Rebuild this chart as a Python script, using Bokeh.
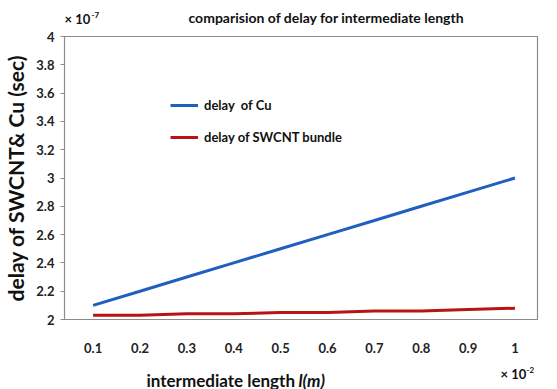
from bokeh.plotting import figure
from bokeh.models import Label, Legend, LegendItem, FixedTicker, Range1d
from bokeh.layouts import column
from bokeh.embed import file_html
from bokeh.resources import INLINE

lengths = [0.1, 0.2, 0.3, 0.4, 0.5, 0.6, 0.7, 0.8, 0.9, 1.0]
delay_cu = [2.1, 2.2, 2.3, 2.4, 2.5, 2.6, 2.7, 2.8, 2.9, 3.0]
delay_swcnt = [2.03, 2.03, 2.04, 2.04, 2.05, 2.05, 2.06, 2.06, 2.07, 2.08]
x_ticks = [0.1, 0.2, 0.3, 0.4, 0.5, 0.6, 0.7, 0.8, 0.9, 1.0]
y_ticks = [2, 2.2, 2.4, 2.6, 2.8, 3, 3.2, 3.4, 3.6, 3.8, 4]

FONT = "Lato"
W = 541


def strip(height):
    s = figure(width=W, height=height, output_backend="svg", toolbar_location=None,
               x_range=Range1d(0, 1), y_range=Range1d(0, 1),
               x_axis_location=None, y_axis_location=None, min_border=0)
    s.grid.visible = False
    s.outline_line_color = None
    s.background_fill_color = "white"
    s.border_fill_color = "white"
    return s


def add_label(fig, x, y, text, size, style="bold", baseline="middle"):
    fig.add_layout(Label(x=x, y=y, x_units="screen", y_units="screen", text=text,
                         text_font=FONT, text_font_style=style, text_font_size=size,
                         text_color="#111111", text_baseline=baseline))


# top strip: title row
top = strip(28)
add_label(top, 124, 11, "comparision of delay for intermediate length", "14px")
add_label(top, 0, 10, "× 10", "13px")
add_label(top, 27, 14, "-7", "8px")

# main plot
p = figure(width=W, height=335, output_backend="svg", toolbar_location=None,
           x_range=Range1d(0.039, 1.048), y_range=Range1d(2, 4),
           min_border_left=55, min_border_right=4, min_border_top=8, min_border_bottom=44)
p.background_fill_color = "white"
p.border_fill_color = "white"
p.outline_line_color = "#8c8c8c"
p.outline_line_width = 1.2
p.grid.visible = False

r1 = p.line(lengths, delay_cu, line_color="#1f5fc0", line_width=3)
r2 = p.line(lengths, delay_swcnt, line_color="#b81414", line_width=3)

p.xaxis.ticker = FixedTicker(ticks=x_ticks)
p.xaxis.major_label_overrides = {0.1: "0.1", 0.2: "0.2", 0.3: "0.3", 0.4: "0.4", 0.5: "0.5",
                                 0.6: "0.6", 0.7: "0.7", 0.8: "0.8", 0.9: "0.9", 1.0: "1"}
p.xaxis.major_tick_line_color = None
p.xaxis.minor_tick_line_color = None
p.xaxis.axis_line_color = "#8c8c8c"
p.xaxis.major_label_text_font = FONT
p.xaxis.major_label_text_font_style = "bold"
p.xaxis.major_label_text_font_size = "13px"
p.xaxis.major_label_text_color = "#222222"
p.xaxis.major_label_standoff = 17

p.yaxis.ticker = FixedTicker(ticks=y_ticks)
p.yaxis.major_label_overrides = {2: "2", 2.2: "2.2", 2.4: "2.4", 2.6: "2.6", 2.8: "2.8", 3: "3",
                                 3.2: "3.2", 3.4: "3.4", 3.6: "3.6", 3.8: "3.8", 4: "4"}
p.yaxis.major_tick_line_color = "#8c8c8c"
p.yaxis.major_tick_in = 0
p.yaxis.major_tick_out = 4
p.yaxis.minor_tick_line_color = None
p.yaxis.axis_line_color = "#8c8c8c"
p.yaxis.major_label_text_font = FONT
p.yaxis.major_label_text_font_style = "bold"
p.yaxis.major_label_text_font_size = "13px"
p.yaxis.major_label_text_color = "#222222"
p.yaxis.major_label_standoff = 6
p.yaxis.axis_label = "delay of SWCNT& Cu (sec)"
p.yaxis.axis_label_text_font = FONT
p.yaxis.axis_label_text_font_style = "bold"
p.yaxis.axis_label_text_font_size = "21px"
p.yaxis.axis_label_text_color = "#111111"
p.yaxis.axis_label_standoff = 5

legend = Legend(items=[LegendItem(label="delay  of Cu", renderers=[r1]),
                       LegendItem(label="delay of SWCNT bundle", renderers=[r2])],
                location=(106, 172), orientation="vertical")
legend.border_line_color = None
legend.background_fill_alpha = 0
legend.padding = 0
legend.margin = 0
legend.spacing = 12
legend.glyph_width = 28
legend.glyph_height = 20
legend.label_height = 20
legend.label_standoff = 6
legend.label_text_font = FONT
legend.label_text_font_style = "bold"
legend.label_text_font_size = "13px"
legend.label_text_color = "#111111"
p.add_layout(legend, "center")

# bottom strip: x-axis title and multiplier
bottom = strip(26)
add_label(bottom, 82, 9, "intermediate length", "17px", baseline="alphabetic")
add_label(bottom, 234, 9, "l(m)", "17px", style="bold italic", baseline="alphabetic")
add_label(bottom, 436, 16, "× 10", "13px")
add_label(bottom, 462, 20, "-2", "8px")

layout = column(top, p, bottom, spacing=0)
open("out.html", "w").write(file_html(layout, INLINE))
